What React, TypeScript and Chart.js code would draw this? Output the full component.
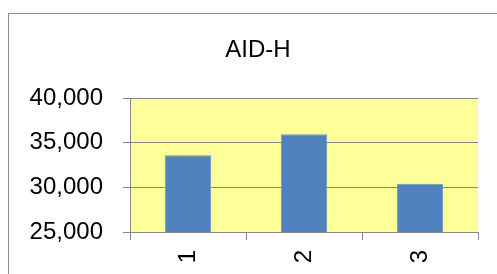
import React, { useEffect, useRef } from "react";
import { Chart, registerables } from "chart.js";

Chart.register(...registerables);

const categories = ["1", "2", "3"];
const values = [33600, 35950, 30400];
const yTicks = [25000, 30000, 35000, 40000];
const chartTitle = "AID-H";

const FONT = "'Liberation Sans', Arial, sans-serif";

const plotBg = {
  id: "plotBg",
  beforeDraw(chart: any) {
    const { ctx, chartArea } = chart;
    if (!chartArea) return;
    ctx.save();
    ctx.fillStyle = "#FFFF99";
    ctx.fillRect(chartArea.left, chartArea.top, chartArea.right - chartArea.left, chartArea.bottom - chartArea.top);
    ctx.restore();
  },
};

export default function App() {
  const ref = useRef<HTMLCanvasElement | null>(null);
  useEffect(() => {
    if (!ref.current) return;
    const chart = new Chart(ref.current, {
      type: "bar",
      data: {
        labels: categories,
        datasets: [
          {
            data: values,
            backgroundColor: "#4F81BD",
            borderColor: "#6A94C9",
            borderWidth: 1,
            barPercentage: 0.4,
            categoryPercentage: 1,
          },
        ],
      },
      plugins: [plotBg],
      options: {
        responsive: false,
        animation: false,
        layout: { padding: { left: 0, right: 0, top: 0, bottom: 0 } },
        plugins: {
          legend: { display: false },
          tooltip: { enabled: false },
          title: {
            display: true,
            text: chartTitle,
            color: "#000",
            font: { family: FONT, size: 24, weight: "normal", lineHeight: 1.2 },
            padding: { top: 35.6, bottom: 33.6 },
          },
        },
        scales: {
          y: {
            min: yTicks[0],
            max: yTicks[yTicks.length - 1],
            afterFit(scale: any) {
              scale.width = 130;
            },
            afterBuildTicks(scale: any) {
              scale.ticks = yTicks.map((v) => ({ value: v }));
            },
            ticks: {
              color: "#000",
              font: { family: FONT, size: 24 },
              padding: 20,
              callback: (v: any) => Number(v).toLocaleString("en-US"),
            },
            grid: { color: "#868686", lineWidth: 1, tickLength: 7 },
            border: { color: "#868686", width: 1 },
          },
          yRight: {
            type: "linear",
            position: "right",
            afterFit(scale: any) {
              scale.width = 38;
            },
            ticks: { display: false },
            grid: { display: false, drawTicks: false },
            border: { display: false },
          },
          x: {
            afterFit(scale: any) {
              scale.height = 42;
            },
            ticks: {
              color: "#000",
              font: { family: FONT, size: 24 },
              minRotation: 90,
              maxRotation: 90,
              autoSkip: false,
              padding: 10,
            },
            grid: { drawOnChartArea: false, color: "#868686", tickLength: 8, offset: true },
            border: { color: "#868686", width: 1 },
          },
        },
      },
    });
    return () => chart.destroy();
  }, []);

  return (
    <div style={{ position: "fixed", left: 0, top: 0, width: 497, height: 274, overflow: "hidden", background: "#fff" }}>
      <div
        style={{
          position: "absolute",
          left: 8,
          top: 13,
          width: 520,
          height: 300,
          border: "1px solid #8C8C8C",
          boxSizing: "border-box",
        }}
      />
      <canvas ref={ref} width={516} height={274} style={{ position: "absolute", left: 0, top: 0 }} />
    </div>
  );
}
